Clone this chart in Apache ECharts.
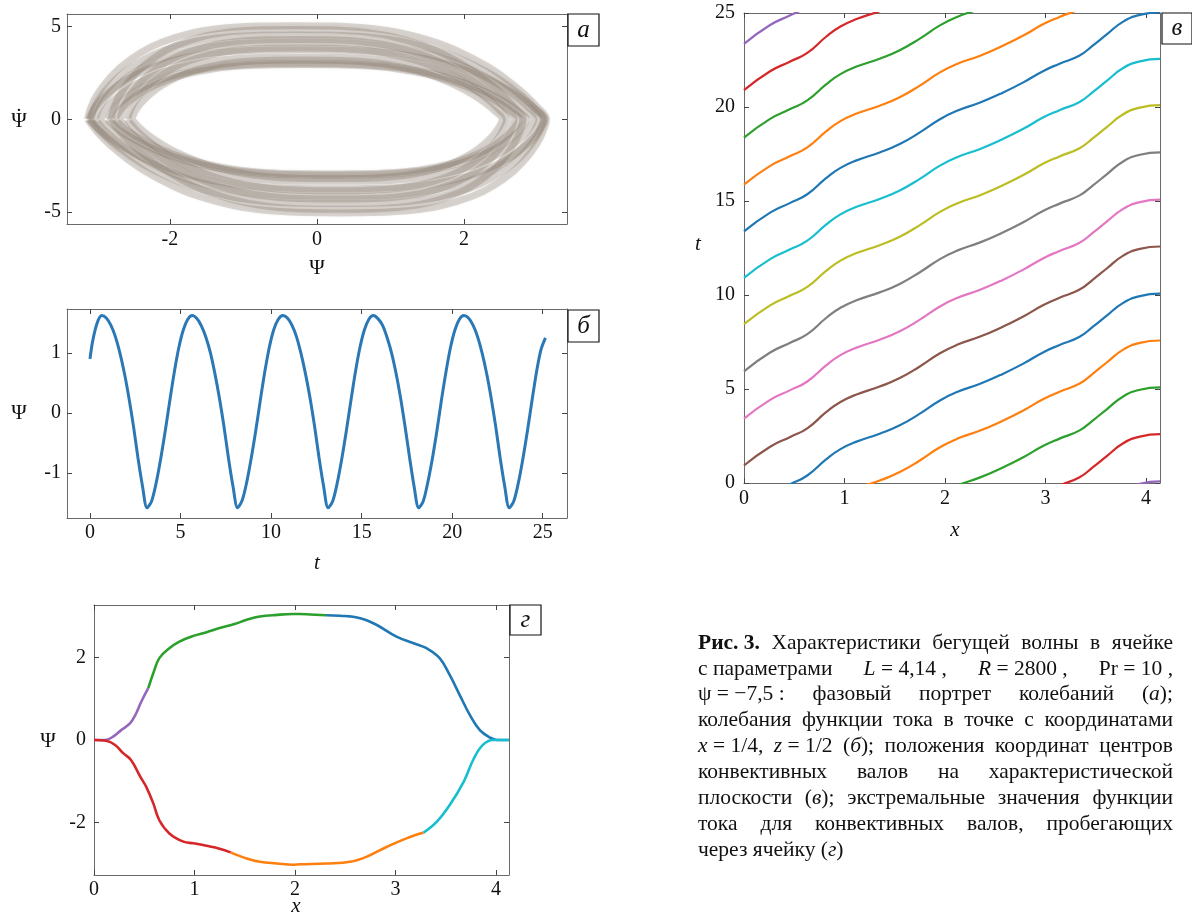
<!DOCTYPE html>
<html>
<head>
<meta charset="utf-8">
<script src="https://cdn.jsdelivr.net/npm/echarts@6/dist/echarts.min.js"></script>
<style>
html,body{margin:0;padding:0;background:#fff;}
#c{width:1192px;height:916px;}
</style>
</head>
<body>
<div id="c"></div>
<script>
// ================= DATA =================
// Panel а: phase portrait (Ψ, dΨ/dt) – a bundle of lens-shaped loops
const loopU = [-1, -0.97, -0.93, -0.87, -0.8, -0.7, -0.6, -0.45, -0.3, -0.15, 0, 0.15, 0.3, 0.45, 0.6, 0.7, 0.8, 0.87, 0.93, 0.97, 1];
const loopV = [0, 0.14, 0.27, 0.42, 0.56, 0.71, 0.82, 0.925, 0.978, 0.997, 1, 0.997, 0.978, 0.925, 0.82, 0.71, 0.56, 0.42, 0.27, 0.14, 0];
const loopPsiAmp = [3.12, 3.08, 3.02, 3.10, 2.95, 2.85, 2.80, 2.68, 2.58, 2.52, 2.75];
const loopDotAmp = [5.05, 4.55, 4.15, 3.75, 3.35, 3.00, 4.85, 4.30, 3.85, 3.20, 2.95];
const loopShear = 0.06;

// Panel б: Ψ(t) at x = 1/4, z = 1/2
const tB = [0, 0.15, 0.4,
  0.65, 0.9, 1.15, 1.4, 1.65, 1.9, 2.15, 2.4, 2.65, 2.9,
  3.15, 3.4, 3.65, 3.9, 4.15, 4.4, 4.65, 4.9, 5.15, 5.4,
  5.65, 5.9, 6.15, 6.4, 6.65, 6.9, 7.15, 7.4, 7.65, 7.9,
  8.15, 8.4, 8.65, 8.9, 9.15, 9.4, 9.65, 9.9, 10.15, 10.4,
  10.65, 10.9, 11.15, 11.4, 11.65, 11.9, 12.15, 12.4, 12.65, 12.9,
  13.15, 13.4, 13.65, 13.9, 14.15, 14.4, 14.65, 14.9, 15.15, 15.4,
  15.65, 15.9, 16.15, 16.4, 16.65, 16.9, 17.15, 17.4, 17.65, 17.9,
  18.15, 18.4, 18.65, 18.9, 19.15, 19.4, 19.65, 19.9, 20.15, 20.4,
  20.65, 20.9, 21.15, 21.4, 21.65, 21.9, 22.15, 22.4, 22.65, 22.9,
  23.15, 23.4, 23.65, 23.9, 24.15, 24.4, 24.65, 24.9,
  25.15];
const psiB = [0.90, 1.20, 1.50,
  1.62, 1.58, 1.46, 1.27, 1.00, 0.66, 0.25, -0.22, -0.75, -1.22,
  -1.58, -1.47, -1.17, -0.77, -0.31, 0.19, 0.67, 1.08, 1.38, 1.56,
  1.62, 1.57, 1.45, 1.26, 1.00, 0.65, 0.24, -0.23, -0.76, -1.23,
  -1.58, -1.46, -1.16, -0.76, -0.30, 0.20, 0.68, 1.09, 1.39, 1.56,
  1.62, 1.58, 1.46, 1.27, 0.99, 0.65, 0.25, -0.22, -0.75, -1.22,
  -1.58, -1.47, -1.17, -0.77, -0.31, 0.19, 0.67, 1.08, 1.38, 1.56,
  1.62, 1.57, 1.46, 1.26, 1.00, 0.66, 0.25, -0.23, -0.75, -1.23,
  -1.58, -1.47, -1.16, -0.77, -0.31, 0.20, 0.67, 1.08, 1.38, 1.56,
  1.62, 1.58, 1.46, 1.27, 1.00, 0.66, 0.25, -0.22, -0.75, -1.22,
  -1.58, -1.47, -1.17, -0.77, -0.31, 0.19, 0.67, 1.05,
  1.25];

// Panel в: roll-centre trajectories; common profile t - t0 versus x, and each roll's t0
const rollX = [0, 0.26, 0.46, 0.63, 0.82, 0.96, 1.12, 1.35, 1.55, 1.75, 1.95, 2.12, 2.35, 2.55, 2.78, 2.98, 3.14, 3.34, 3.47, 3.61, 3.77, 3.94, 4.14];
const rollDt = [0, 1.0, 1.52, 1.98, 2.85, 3.38, 3.78, 4.2, 4.65, 5.27, 5.97, 6.42, 6.86, 7.32, 7.93, 8.54, 8.92, 9.36, 9.88, 10.48, 11.15, 11.52, 11.65];
const rollT0 = [-11.56, -9.05, -6.56, -4.07, -1.58, 0.93, 3.42, 5.94, 8.45, 10.91, 13.38, 15.87, 18.37, 20.90, 23.36];
const rollColors = ['#9467bd', '#d62728', '#2ca02c', '#ff7f0e', '#1f77b4', '#8c564b', '#e377c2', '#7f7f7f', '#bcbd22', '#17becf', '#1f77b4', '#ff7f0e', '#2ca02c', '#d62728', '#9467bd'];

// Panel г: extreme values of Ψ for rolls passing through the cell
const purpleX = [0, 0.11, 0.19, 0.27, 0.36, 0.42, 0.47, 0.54];
const purpleY = [0, 0, 0.08, 0.24, 0.41, 0.65, 0.93, 1.26];
const greenX = [0.54, 0.59, 0.65, 0.75, 0.85, 0.99, 1.12, 1.25, 1.39, 1.52, 1.65, 1.82, 1.98, 2.05, 2.15, 2.31];
const greenY = [1.26, 1.62, 1.99, 2.23, 2.39, 2.53, 2.62, 2.72, 2.81, 2.92, 3.0, 3.04, 3.06, 3.06, 3.05, 3.03];
const blueX = [2.31, 2.45, 2.65, 2.81, 3.01, 3.18, 3.31, 3.44, 3.54, 3.64, 3.74, 3.84, 3.94, 4.01, 4.13];
const blueY = [3.03, 3.02, 2.96, 2.80, 2.51, 2.35, 2.23, 1.99, 1.58, 1.09, 0.61, 0.24, 0.06, 0, 0];
const redX = [0, 0.12, 0.21, 0.29, 0.37, 0.46, 0.52, 0.59, 0.65, 0.75, 0.89, 0.99, 1.12, 1.25, 1.36];
const redY = [0, -0.02, -0.12, -0.32, -0.49, -0.89, -1.14, -1.54, -1.95, -2.27, -2.47, -2.51, -2.57, -2.64, -2.73];
const orangeX = [1.36, 1.52, 1.65, 1.82, 1.98, 2.05, 2.31, 2.55, 2.71, 2.91, 3.11, 3.28];
const orangeY = [-2.73, -2.88, -2.96, -3.0, -3.03, -3.02, -3.0, -2.96, -2.84, -2.6, -2.39, -2.25];
const cyanX = [3.28, 3.41, 3.54, 3.68, 3.78, 3.87, 3.97, 4.13];
const cyanY = [-2.25, -1.99, -1.58, -1.01, -0.45, -0.12, 0, 0];

// Tick labels
const ticksAX = [-2, 0, 2], ticksAY = [-5, 0, 5];
const ticksBX = [0, 5, 10, 15, 20, 25], ticksBY = [-1, 0, 1];
const ticksVX = [0, 1, 2, 3, 4], ticksVY = [0, 5, 10, 15, 20, 25];
const ticksGX = [0, 1, 2, 3, 4], ticksGY = [-2, 0, 2];

// Caption (markup: ^bold^, _italic_)
const captionLines = [
  ['^Рис. 3.^', 'Характеристики', 'бегущей', 'волны', 'в', 'ячейке'],
  ['с параметрами', '_L_ = 4,14 ,', '_R_ = 2800 ,', 'Pr = 10 ,'],
  ['ψ = −7,5 :', 'фазовый', 'портрет', 'колебаний', '(_а_);'],
  ['колебания', 'функции', 'тока', 'в', 'точке', 'с', 'координатами'],
  ['_x_ = 1/4,', '_z_ = 1/2', '(_б_);', 'положения', 'координат', 'центров'],
  ['конвективных', 'валов', 'на', 'характеристической'],
  ['плоскости', '(_в_);', 'экстремальные', 'значения', 'функции'],
  ['тока', 'для', 'конвективных', 'валов,', 'пробегающих'],
  ['через ячейку (_г_)']
];

// ================= BUILD =================
const SERIF = '"Liberation Serif", "Times New Roman", serif';
const chart = echarts.init(document.getElementById('c'), null, {renderer: 'canvas'});

const grids = [
  {left: 67, top: 14, width: 500, height: 210},
  {left: 67, top: 309, width: 500, height: 209},
  {left: 744, top: 13, width: 416, height: 470},
  {left: 94, top: 605, width: 415, height: 270}
];
const axisSpec = [
  {x: [-3.4, 3.4], xt: ticksAX, y: [-5.65, 5.68], yt: ticksAY, xm: 6, ym: 6},
  {x: [-1.27, 26.34], xt: ticksBX, y: [-1.75, 1.73], yt: ticksBY, xm: 5, ym: 6},
  {x: [0, 4.14], xt: ticksVX, y: [0, 25], yt: ticksVY, xm: 6, ym: 9},
  {x: [0, 4.13], xt: ticksGX, y: [-3.28, 3.28], yt: ticksGY, xm: 5, ym: 8}
];
const lineCol = '#6a6a6a';
const LBL = 20;
const xAxes = [], yAxes = [];
axisSpec.forEach((s, gi) => {
  ['bottom', 'top'].forEach((pos, k) => {
    xAxes.push({
      gridIndex: gi, type: 'value', position: pos, min: s.x[0], max: s.x[1],
      axisLine: {show: true, onZero: false, lineStyle: {color: lineCol, width: 1}},
      axisTick: {show: true, inside: true, length: 5, customValues: s.xt, lineStyle: {color: '#444'}},
      axisLabel: {show: k === 0, customValues: s.xt, margin: s.xm, color: '#111', fontFamily: SERIF, fontSize: LBL},
      splitLine: {show: false}
    });
  });
  ['left', 'right'].forEach((pos, k) => {
    yAxes.push({
      gridIndex: gi, type: 'value', position: pos, min: s.y[0], max: s.y[1],
      axisLine: {show: true, onZero: false, lineStyle: {color: lineCol, width: 1}},
      axisTick: {show: true, inside: true, length: 5, customValues: s.yt, lineStyle: {color: '#444'}},
      axisLabel: {show: k === 0, customValues: s.yt, margin: s.ym, color: '#111', fontFamily: SERIF, fontSize: LBL},
      splitLine: {show: false}
    });
  });
});

const series = [];
// Panel а loops
loopPsiAmp.forEach((A, li) => {
  const B = loopDotAmp[li];
  const pts = [];
  for (let i = 0; i < loopU.length; i++) pts.push([A * loopU[i] - loopShear * B * loopV[i], B * loopV[i]]);
  for (let i = loopU.length - 2; i >= 0; i--) pts.push([A * loopU[i] + loopShear * B * loopV[i], -B * loopV[i]]);
  series.push({
    type: 'line', xAxisIndex: 0, yAxisIndex: 0, data: pts, showSymbol: false, smooth: 0.35, silent: true,
    lineStyle: {color: 'rgba(118,106,90,0.26)', width: 7, shadowBlur: 3, shadowColor: 'rgba(118,106,90,0.25)'}
  });
});
// Panel б
series.push({
  type: 'line', xAxisIndex: 2, yAxisIndex: 2, showSymbol: false, smooth: 0.3,
  data: tB.map((t, i) => [t, psiB[i]]),
  lineStyle: {color: '#2a78b6', width: 3}
});
// Panel в
rollT0.forEach((t0, k) => {
  series.push({
    type: 'line', xAxisIndex: 4, yAxisIndex: 4, showSymbol: false, smooth: 0.5,
    data: rollX.map((x, i) => [x, rollDt[i] + t0]),
    lineStyle: {color: rollColors[k], width: 2.2}
  });
});
// Panel г
[[purpleX, purpleY, '#9467bd'], [greenX, greenY, '#2ca02c'], [blueX, blueY, '#1f77b4'],
 [redX, redY, '#d62728'], [orangeX, orangeY, '#ff7f0e'], [cyanX, cyanY, '#17becf']].forEach(([xs, ys, c]) => {
  series.push({
    type: 'line', xAxisIndex: 6, yAxisIndex: 6, showSymbol: false, smooth: 0.4,
    data: xs.map((x, i) => [x, ys[i]]),
    lineStyle: {color: c, width: 2.6}
  });
});

// ---------- graphic texts ----------
const graphic = [];
function txt(x, y, text, opt) {
  opt = opt || {};
  graphic.push({
    type: 'text', x: x, y: y, silent: true, z: 100,
    style: {text: text, fill: '#111', fontFamily: SERIF, fontSize: opt.size || 20,
      fontStyle: opt.italic ? 'italic' : 'normal', fontWeight: opt.bold ? 'bold' : 'normal',
      align: opt.align || 'center', verticalAlign: 'middle'}
  });
}
// axis names
txt(19, 121, 'Ψ', {size: 21});
txt(19, 117, '˙', {size: 22});
txt(317, 268, 'Ψ', {size: 21});
txt(19, 413, 'Ψ', {size: 21});
txt(317, 563, 't', {size: 21, italic: true});
txt(698, 244, 't', {size: 21, italic: true});
txt(955, 530, 'x', {size: 21, italic: true});
txt(48, 741, 'Ψ', {size: 21});
txt(296, 906, 'x', {size: 21, italic: true});
// panel letters in boxes
[[568, 14, 31, 32, 'а'], [568, 310, 31, 32, 'б'], [1162, 13, 30, 31, 'в'], [510, 605, 31, 30, 'г']].forEach(([x, y, w, h, s]) => {
  graphic.push({type: 'rect', shape: {x: x, y: y, width: w, height: h}, silent: true, z: 90,
    style: {fill: '#fff', stroke: '#111', lineWidth: 1.2}});
  txt(x + w / 2, y + h / 2, s, {size: 25, italic: true});
});

// caption with justification
const capLeft = 698, capRight = 1173, capTop = 643, capLH = 25.9, capSize = 21.5;
const mctx = document.createElement('canvas').getContext('2d');
function segs(word) {
  const out = []; const re = /(\^[^\^]+\^|_[^_]+_|[^\^_]+)/g; let m;
  while ((m = re.exec(word))) {
    const s = m[0];
    if (s[0] === '^') out.push({t: s.slice(1, -1), it: false, b: true});
    else if (s[0] === '_') out.push({t: s.slice(1, -1), it: true, b: false});
    else out.push({t: s, it: false, b: false});
  }
  return out;
}
function mw(seg) {
  mctx.font = (seg.it ? 'italic ' : 'normal ') + (seg.b ? 'bold ' : 'normal ') + capSize + 'px ' + SERIF;
  return mctx.measureText(seg.t).width;
}
captionLines.forEach((words, li) => {
  const y = capTop + li * capLH;
  const parsed = words.map(w => segs(w).map(s => Object.assign(s, {w: mw(s)})));
  const widths = parsed.map(p => p.reduce((a, s) => a + s.w, 0));
  const total = widths.reduce((a, b) => a + b, 0);
  const last = li === captionLines.length - 1;
  const gap = (last || words.length < 2) ? mw({t: ' ', it: false, b: false}) : (capRight - capLeft - total) / (words.length - 1);
  let x = capLeft;
  parsed.forEach((p) => {
    p.forEach(s => { txt(x, y, s.t, {size: capSize, italic: s.it, bold: s.b, align: 'left'}); x += s.w; });
    x += gap;
  });
});

chart.setOption({
  animation: false,
  backgroundColor: '#fff',
  grid: grids.map(g => Object.assign({show: false}, g)),
  xAxis: xAxes,
  yAxis: yAxes,
  series: series,
  graphic: graphic
});
</script>
</body>
</html>
